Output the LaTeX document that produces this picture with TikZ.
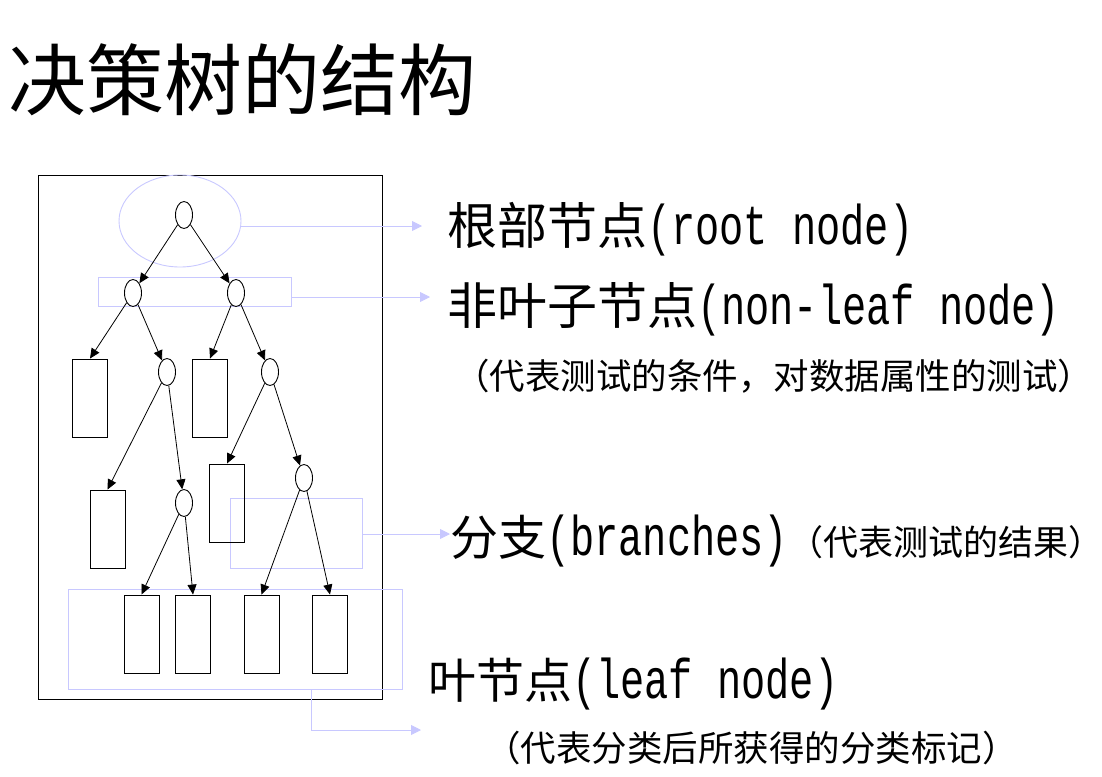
\documentclass[tikz,border=0pt]{standalone}
\usepackage{fontspec}
\newfontfamily\cjk{Noto Sans CJK SC}
\newfontfamily\lmonofont[FakeStretch=0.72]{Liberation Mono}
\newcommand\lmono{\lmonofont\fontsize{56}{60}\selectfont}
\usetikzlibrary{shapes.geometric,arrows.meta}
\definecolor{hlblue}{RGB}{200,200,255}
\tikzset{
  dec/.style={draw, ellipse, minimum width=17, minimum height=27, inner sep=0, line width=0.9pt},
  leafbox/.style={draw, rectangle, minimum width=35, minimum height=78, inner sep=0, line width=0.9pt},
  edge/.style={line width=0.8pt, -{Triangle[length=10pt,width=9pt]}},
  hl/.style={draw=hlblue, line width=0.9pt, inner sep=0},
  hlarrow/.style={draw=hlblue, line width=0.9pt, -{Triangle[length=10pt,width=10pt]}},
  lbl/.style={anchor=base west, inner sep=0, font=\cjk\fontsize{48}{52}\selectfont},
  lblbig/.style={anchor=base west, inner sep=0, font=\cjk\fontsize{50}{54}\selectfont},
  sublbl/.style={anchor=base west, inner sep=0, font=\cjk\fontsize{35.5}{40}\selectfont},
}
\begin{document}
\begin{tikzpicture}[x=1pt,y=-1pt]
\useasboundingbox (0,0) rectangle (1102,776);
% title
\node[anchor=base west, inner sep=0, font=\cjk\fontsize{78}{82}\selectfont] (title) at (8,109) {决策树的结构};
% frame
\node[draw, rectangle, line width=0.9pt, minimum width=344, minimum height=524, inner sep=0] (frame) at (210,437) {};
% highlights
\node[hl, ellipse, minimum width=122, minimum height=92] (he) at (180,221) {};
\node[hl, rectangle, minimum width=193, minimum height=29] (hr) at (194.5,291.5) {};
\node[hl, rectangle, minimum width=132, minimum height=70] (hb) at (296,533) {};
\node[hl, rectangle, minimum width=334, minimum height=100] (hleaf) at (235,639) {};
% tree nodes
\node[dec] (r) at (184,215) {};
\node[dec] (a) at (133,293) {};
\node[dec] (b) at (236,293) {};
\node[leafbox] (l1) at (90,398) {};
\node[dec] (c) at (167,372) {};
\node[leafbox] (l2) at (210,398) {};
\node[dec] (d) at (270,372) {};
\node[leafbox] (l3) at (107.5,529) {};
\node[dec] (e) at (184,503) {};
\node[leafbox] (l4) at (227,503) {};
\node[dec] (f) at (304,478) {};
\node[leafbox] (l5) at (141.5,634) {};
\node[leafbox] (l6) at (193,634) {};
\node[leafbox] (l7) at (261.5,634) {};
\node[leafbox] (l8) at (330,634) {};
% edges
\draw[edge] (r) -- (a);
\draw[edge] (r) -- (b);
\draw[edge] (a) -- (l1.north);
\draw[edge] (a) -- (c);
\draw[edge] (b) -- (l2.north);
\draw[edge] (b) -- (d);
\draw[edge] (c) -- (l3.north);
\draw[edge] (c) -- (e);
\draw[edge] (d) -- (l4.north);
\draw[edge] (d) -- (f);
\draw[edge] (e) -- (l5.north);
\draw[edge] (e) -- (l6.north);
\draw[edge] (f) -- (l7.north);
\draw[edge] (f) -- (l8.north);
% highlight connectors
\coordinate (c1) at (422,226);
\coordinate (c2) at (430,297);
\coordinate (c3) at (450,534);
\coordinate (k4) at (311,730);
\coordinate (c4) at (421,730);
\draw[hlarrow] (he.east |- c1) -- (c1);
\draw[hlarrow] (hr.east |- c2) -- (c2);
\draw[hlarrow] (hb.east |- c3) -- (c3);
\draw[hlarrow] (hleaf.south -| k4) -- (k4) -- (c4);
% labels
\node[lblbig] (t1) at (447,244) {根部节点{\lmono (root node)}};
\node[lblbig] (t2) at (447,324) {非叶子节点{\lmono (non-leaf node)}};
\node[sublbl] (t3) at (454,389) {（代表测试的条件，对数据属性的测试）};
\node[lbl] (t4) at (450,555) {分支{\lmono (branches)}{\fontsize{35}{40}\selectfont（代表测试的结果）}};
\node[lbl] (t5) at (428,698) {叶节点{\lmono (leaf node)}};
\node[sublbl] (t6) at (485,761) {（代表分类后所获得的分类标记）};
\end{tikzpicture}
\end{document}
